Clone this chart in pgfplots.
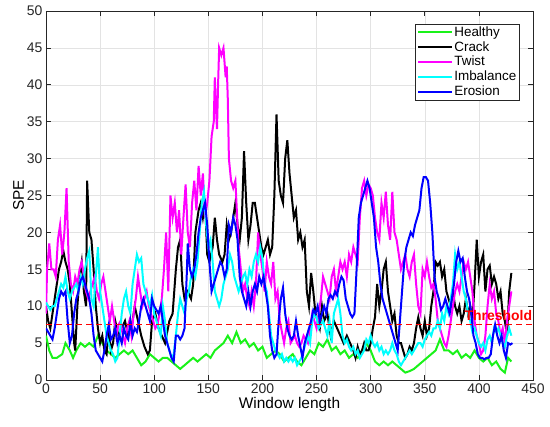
\documentclass[border=0pt]{standalone}
\usepackage{pgfplots}
\pgfplotsset{compat=1.18}
\usepackage{fontspec}
\setmainfont{Liberation Sans}
\definecolor{mgreen}{rgb}{0.1,0.95,0.1}
\definecolor{mmag}{rgb}{1,0,1}
\definecolor{mcyan}{rgb}{0,1,1}
\definecolor{mblue}{rgb}{0,0,1}
\definecolor{mred}{rgb}{1,0,0}
\definecolor{axgray}{rgb}{0.15,0.15,0.15}
\begin{document}
\begin{tikzpicture}
\begin{axis}[
  scale only axis,
  width=487bp, height=369bp,
  xmin=0, xmax=450, ymin=0, ymax=50,
  xtick={0,50,...,450}, ytick={0,5,...,50},
  tick align=inside,
  major tick length=5bp,
  axis line style={axgray, line width=0.6bp},
  every tick/.style={axgray, line width=0.6bp},
  grid=major,
  major grid style={gray!22, line width=0.5bp},
  /pgf/number format/assume math mode=true,
  ticklabel style={font=\fontsize{14}{16}\selectfont, text=axgray},
  xlabel={Window length}, ylabel={SPE},
  label style={font=\fontsize{15.5}{18}\selectfont},
  xlabel style={yshift=3bp},
  ylabel style={yshift=-4bp},
  legend style={at={(0.972,0.966)}, anchor=north east, draw=axgray, line width=0.6bp,
    font=\fontsize{13.5}{15}\selectfont, row sep=1.2bp, inner sep=1.5bp,
    nodes={inner sep=1.2bp}},
  legend cell align=left,
  legend image code/.code={\draw[#1] (0bp,0bp) -- (34bp,0bp);},
]
\addplot[mgreen, line width=2bp] coordinates {
(0,6)(3,4)(6,3)(10,3)(15,3.5)(18,5)(22,4)(25,3)(28,4)(32,5)(36,4.5)(40,5)(44,4.5)(48,6)(52,5)(56,4)(60,3.5)(64,3)(68,3.5)(72,4)(76,3.5)(80,4)(84,3)(88,2)(92,2.5)(96,3.5)(100,3)(104,2.5)(108,3)(112,3)(116,2.5)(120,2)(124,1.5)(128,2)(132,2.5)(136,3)(140,2.5)(144,3)(148,3.5)(152,3)(156,4)(160,4.5)(164,5)(168,6)(172,5)(176,6.5)(180,5)(184,5.5)(188,4.5)(192,5)(196,4)(200,4.5)(204,3)(208,3.5)(212,4)(216,3.5)(220,2.5)(224,3)(228,3.5)(232,2.5)(236,2)(240,3)(244,4)(248,3.5)(252,5)(256,4.5)(260,5.5)(264,4)(268,4.5)(272,3.5)(276,4)(280,3)(284,3.5)(288,3)(292,4)(296,5)(300,4)(304,2.5)(308,2)(312,2.5)(316,2)(320,2.5)(324,2)(328,1.5)(332,1)(336,1.2)(340,1.5)(344,2)(348,2.5)(352,3)(356,3.5)(360,4)(364,5.5)(368,4)(372,4)(376,3.5)(380,4)(384,3)(388,3.5)(392,3)(396,4)(400,3)(404,2.5)(408,3)(412,2)(416,2.5)(420,1.5)(424,1)(427,3)(430,2.5)
};
\addlegendentry{Healthy}
\addplot[black, line width=2bp] coordinates {
(0,10)(2,8)(4,7)(6,9)(8,11)(10,13)(12,15)(14,16)(16,17.5)(18,16)(20,15)(22,13)(24,9)(26,5)(27,4)(29,10)(31,14)(33,16)(35,12)(37,10)(38,27)(40,20)(42,19)(44,15)(46,10)(48,7)(50,5)(52,6)(54,4)(56,3.5)(58,7)(60,4)(62,5)(64,8)(67,6)(70,7)(73,8)(76,6)(79,7)(82,10)(85,8)(88,6)(91,4.5)(94,3.5)(96,4)(98,8)(101,9)(104,7)(107,6)(110,5)(112,6.5)(114,8)(117,9)(120,15)(122,18)(124,19)(126,13)(128,11)(131,12)(134,11)(136,13)(138,20)(141,23)(143,24)(145,22)(147,24)(149,17)(151,16)(154,18)(156,22)(158,19)(160,17)(163,16)(165,17)(167,21)(169,19)(171,20)(173,22)(175,24)(177,21)(179,19)(181,22)(183,31)(185,24)(187,19)(189,21)(191,24)(193,24)(195,22)(197,20)(199,18)(201,17)(203,18)(205,19)(207,17)(209,18)(211,25)(213,36)(215,27)(217,25)(219,24)(221,30)(223,32.5)(225,28)(227,25)(229,22)(231,23)(233,19)(235,20)(237,18)(239,19)(241,12)(243,10)(245,14.5)(247,12)(249,9)(251,8)(253,7)(255,10)(257,8)(260,9)(263,6)(266,8)(269,7)(272,6)(275,5)(278,6)(281,5)(284,4)(286,3)(288,4.5)(290,3.5)(292,4)(294,5)(296,4)(298,4)(300,5)(302,7)(304,8.5)(306,13)(308,10)(310,12)(312,15)(314,16)(316,12)(318,10)(320,8)(322,9)(324,6)(326,5)(328,5)(330,4)(332,3)(334,3.5)(336,4.5)(338,4)(340,5)(342,7)(344,8.5)(346,7)(348,6)(350,8)(352,6)(354,7)(356,10)(358,12)(360,16)(362,15.5)(364,16)(366,14)(368,15)(370,12)(372,11)(374,10)(376,12)(378,10)(380,9)(382,10)(384,8)(386,9)(388,11)(390,9)(392,10)(394,8)(396,13)(398,19)(400,14)(402,16)(404,17)(406,12)(408,15)(410,15.5)(412,13)(414,14)(416,13)(418,11)(420,12)(422,9)(424,8)(426,6)(428,12)(430,14.5)
};
\addlegendentry{Crack}
\addplot[mmag, line width=2bp] coordinates {
(0,9)(1,15)(3,18.5)(5,15)(7,15)(9,14)(11,19)(13,21)(15,17)(17,20)(19,26)(21,16)(23,13)(25,12)(27,14)(29,13)(31,15)(33,16)(35,14)(37,12)(39,11)(41,12)(43,13)(45,14)(47,12)(49,11)(51,13)(53,14)(55,12)(57,10)(59,8)(61,10)(63,8)(65,6)(67,7.5)(69,8)(71,6)(73,5)(75,7)(77,8)(79,6)(81,9)(83,11)(85,14)(87,12)(89,10)(91,11)(93,12)(95,10)(97,9)(99,8)(101,7)(103,7.5)(105,9)(107,11)(109,15)(111,20)(113,12)(115,25)(117,22)(119,24)(121,20)(123,23)(125,17)(127,22)(129,26.5)(131,20)(133,18)(135,24)(137,27)(139,23)(141,29)(143,25)(145,28)(147,22)(149,24)(151,27)(153,33)(155,35)(156,41)(157,37)(158,34)(159,40)(160,45)(162,44)(164,45)(166,41)(167,42.5)(168,38)(169,30)(171,27)(173,26)(175,27)(176,24)(178,18)(180,15)(182,12)(184,13)(186,11)(188,10)(190,12)(192,10)(194,13)(196,20)(198,17)(200,15)(202,12)(204,16)(206,14)(208,13)(210,16)(212,11)(214,12)(216,8)(218,6.5)(220,5)(222,7)(224,8)(226,5)(228,5.5)(230,6)(232,5)(234,4.5)(236,5)(238,6)(240,5.5)(242,5)(244,7)(246,9)(248,8)(250,7)(252,9)(254,11)(256,14)(258,13)(260,12)(262,11)(264,14)(266,15)(268,12)(270,14)(272,16)(274,15)(276,16)(278,14)(280,17)(282,16)(284,18)(286,17)(288,16)(290,22)(292,26)(294,27)(296,25)(298,26.5)(300,26)(302,25)(304,22)(306,20)(308,19)(310,24)(312,22)(314,25.5)(316,21)(318,19)(320,25.5)(322,20)(324,19)(326,17)(328,15)(330,16)(332,17)(334,15)(336,14)(338,16)(340,17)(342,13)(344,10)(346,9)(348,15)(350,14)(352,16)(354,14)(356,12.5)(358,13)(360,11)(362,8)(364,7)(366,6)(368,5)(370,4.5)(372,6)(374,8)(376,10)(378,12)(380,13)(382,12)(384,14)(386,16)(388,15)(390,16)(392,14)(394,12)(396,8)(398,6)(400,5)(402,3.5)(404,4)(406,6)(408,10)(410,13)(412,11)(414,12)(416,9)(418,8)(420,6)(422,7)(424,5)(426,8)(428,10)(430,12)
};
\addlegendentry{Twist}
\addplot[mcyan, line width=2bp] coordinates {
(0,10.5)(2,10)(4,9.5)(6,10)(8,10)(10,11)(12,12)(14,13)(16,12.5)(18,14)(20,12)(22,11)(24,12)(26,12.5)(28,13)(30,12)(32,14)(34,13)(36,15)(38,16.5)(40,17.5)(42,11)(44,10)(46,14)(48,18)(50,12)(52,10)(54,8)(56,6)(58,5)(60,4)(62,3.5)(64,2.5)(66,3)(68,6)(70,9)(72,11)(74,12)(76,10)(78,9)(80,13)(82,15)(84,17)(86,16)(88,16.5)(90,13)(92,12)(94,11)(96,10)(98,11.5)(100,9)(102,8)(104,7)(106,6)(108,10)(110,8)(112,5)(114,4)(116,3)(118,3.5)(120,6)(122,9)(124,11)(126,10)(128,9)(130,11)(132,12)(134,14)(136,15)(138,14)(140,16)(142,20)(144,24)(146,25.5)(148,21)(150,18)(152,19)(154,16)(156,12)(158,11)(160,10)(162,11)(164,13)(166,14)(168,15)(170,17)(172,16)(174,14)(176,13)(178,12)(180,13)(182,14)(184,14.5)(186,13)(188,15)(190,14)(192,16)(194,17)(196,16)(198,18)(200,16.5)(202,13)(204,12)(206,9)(208,6)(210,5)(212,4)(214,3.5)(216,3)(218,3.5)(220,2.5)(222,3)(224,2.5)(226,3)(228,2.5)(230,3)(232,2)(234,2.5)(236,3)(238,4)(240,5)(242,6)(244,5)(246,8)(248,9)(250,8.5)(252,7)(254,7.5)(256,8)(258,7)(260,6)(262,8)(264,5)(266,9)(268,10)(270,11)(272,9)(274,6)(276,5)(278,5.5)(280,4.5)(282,4)(284,4.5)(286,3.5)(288,4)(290,3)(292,3.5)(294,4)(296,5.5)(298,5)(300,6)(302,5)(304,4.5)(306,5)(308,4)(310,4.5)(312,3.5)(314,4)(316,3.5)(318,4)(320,5)(322,4)(324,3.5)(326,2.5)(328,2)(330,2.5)(332,3)(334,3.5)(336,4)(338,3.5)(340,4)(342,4.5)(344,5)(346,5)(348,4.5)(350,5.5)(352,6)(354,6.5)(356,6)(358,7)(360,7)(362,8)(364,7)(366,9)(368,8)(370,10)(372,9)(374,11)(376,13)(378,17)(380,15)(382,16)(384,14)(386,12)(388,11)(390,9)(392,8)(394,6.5)(396,7)(398,6)(400,5)(402,4.5)(404,5)(406,4)(408,5.5)(410,6)(412,5)(414,7)(416,6.5)(418,7)(420,6)(422,5)(424,4.5)(426,6)(428,7)(430,6)
};
\addlegendentry{Imbalance}
\addplot[mblue, line width=2bp] coordinates {
(0,7)(2,6.5)(4,6)(6,5.5)(8,7)(10,9)(12,11)(14,12)(16,11.5)(18,12)(20,8)(22,5)(24,6)(26,9)(28,11)(30,12)(32,13.5)(34,14)(36,13)(38,12)(40,11)(42,9)(44,6)(46,4)(48,3.5)(50,3)(52,2.5)(54,4)(56,6)(58,7.5)(60,5.5)(62,6)(64,7)(66,5)(68,6)(70,5)(72,7)(74,6)(76,5.5)(78,8)(80,6)(82,7)(84,6.5)(86,8)(88,10)(90,11)(92,10)(94,9)(96,8)(98,11)(100,10)(102,9.5)(104,9)(106,10)(108,8)(110,6)(112,5)(114,4)(116,3)(118,2.5)(120,6)(122,6)(124,5.5)(126,6)(128,7)(130,14)(131,18.5)(133,15)(135,14)(137,15)(139,17)(141,20)(143,22)(145,23)(147,24)(149,21)(151,16)(153,12)(155,13)(157,14)(159,15)(161,16)(163,15.5)(165,14)(167,15)(169,21)(171,20)(173,22)(175,21)(177,19)(179,14)(181,12)(183,11)(185,10)(187,12)(189,10)(191,12)(193,13)(195,12)(197,14)(199,13)(201,14)(203,12)(205,10)(207,6)(209,4)(211,3)(213,3.5)(215,8)(217,11)(219,12.5)(221,9)(223,7)(225,6)(227,5.5)(229,6)(231,8)(233,6)(235,4.5)(237,3)(239,5)(241,6)(243,7)(245,8)(247,9.5)(249,9)(251,10)(253,8)(255,9)(257,10)(259,9)(261,11)(263,11.5)(265,11)(267,12)(269,11.5)(271,13)(273,14)(275,13.5)(277,11)(279,10)(281,9)(283,8.5)(285,9)(287,15)(289,22)(291,24)(293,25)(295,26)(297,27)(299,26)(301,24)(303,22)(305,18)(307,16)(309,13)(311,11)(313,10)(315,9)(317,8)(319,7)(321,6)(323,5)(325,4)(327,8)(329,12)(331,16)(333,18)(335,19)(337,20)(339,19.5)(341,21)(343,22)(345,23)(347,26)(349,27.5)(351,27.5)(353,27)(355,24)(357,20)(359,14)(361,12)(363,11)(365,9.5)(367,10)(369,11)(371,10)(373,9)(375,11)(377,13)(379,16)(381,17.5)(383,16)(385,16.5)(387,14)(389,12)(391,11)(393,9)(395,6)(397,5)(399,3.5)(401,3)(403,3)(405,2.8)(407,3)(409,3)(411,3.5)(413,6)(415,7.5)(417,6)(419,5)(421,6)(423,4)(425,3)(427,5)(429,4.8)(431,5)
};
\addlegendentry{Erosion}
\addplot[mred, line width=1.2bp, dash pattern=on 6bp off 4bp, forget plot] coordinates {(0,7.5)(450,7.5)};
\node[text=mred, font=\bfseries\fontsize{14}{16}\selectfont] at (axis cs:418,8.7) {Threshold};
\end{axis}
\pgfresetboundingbox
\path[use as bounding box] ([shift={(-46bp,-47bp)}]current axis.south west) rectangle ([shift={(17bp,11bp)}]current axis.north east);
\end{tikzpicture}
\end{document}
